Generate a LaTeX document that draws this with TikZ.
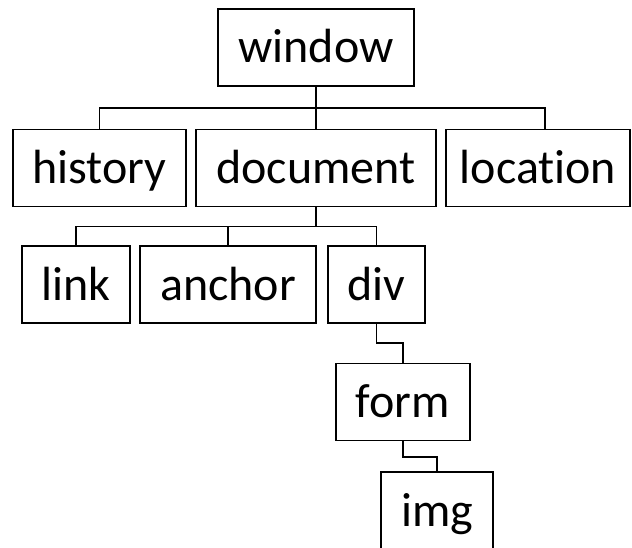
\documentclass[tikz,border=0pt]{standalone}
\usepackage{fontspec}
\setmainfont[Ligatures={NoCommon}]{Carlito}
\begin{document}
\begin{tikzpicture}[x=1pt,y=-1pt,
  box/.style={draw, line width=1.5pt, rectangle, inner sep=0pt,
    minimum height=77pt, text height=34pt, text depth=3pt,
    font=\fontsize{48}{56}\selectfont},
  link/.style={line width=1.5pt},
  trunk/.style={line width=2.4pt}]
\useasboundingbox (0,0) rectangle (632,548);

% root
\node[box, minimum width=196pt] (window) at (316,47.5) {window};

% second level
\node[box, minimum width=173pt] (history)  at (99.5,168) {history};
\node[box, minimum width=240pt] (document) at (316,168)  {document};
\node[box, minimum width=184pt] (location) at (538,168)  {location};

% third level
\node[box, minimum width=108pt] (link)   at (76,284.5)  {link};
\node[box, minimum width=176pt] (anchor) at (228,284.5) {anchor};
\node[box, minimum width=97pt]  (div)    at (376.5,284.5) {div};

% nested chain
\node[box, minimum width=134pt] (form) at (403,402)   {form};
\node[box, minimum width=112pt] (img)  at (437,510.5) {img};

% window branches
\coordinate (wbar) at (316,108);
\draw[trunk] (window.south) -- (wbar);
\draw[link] (history.north) |- (wbar) -| ([xshift=7pt]location.north);
\draw[link] (wbar) -- (document.north);

% document branches
\coordinate (dbar) at (316,226.5);
\draw[trunk] (document.south) -- (dbar);
\draw[link] (link.north) |- (dbar) -| (div.north);
\draw[link] (dbar -| anchor.north) -- (anchor.north);

% div -> form -> img
\draw[link] (div.south) |- (form.north |- 0,343) -- (form.north);
\draw[link] (form.south) |- (img.north |- 0,457) -- (img.north);
\end{tikzpicture}
\end{document}
